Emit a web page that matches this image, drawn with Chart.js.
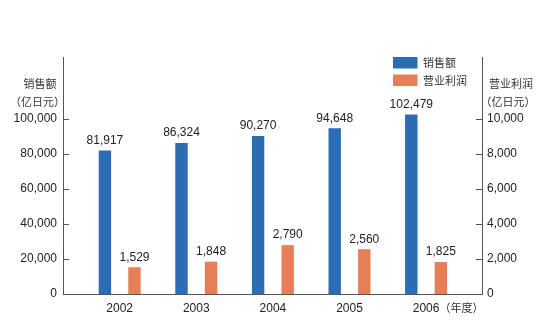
<!DOCTYPE html>
<html>
<head>
<meta charset="utf-8">
<script src="https://cdn.jsdelivr.net/npm/chart.js@4.4.1/dist/chart.umd.min.js"></script>
<style>
  html, body { margin: 0; padding: 0; background: #fff; }
  #wrap { width: 540px; height: 326px; }
</style>
</head>
<body>
<div id="wrap"><canvas id="chart" width="540" height="326"></canvas></div>
<script>
// --- data ---
const years = [2002, 2003, 2004, 2005, 2006];
const salesValues = [81917, 86324, 90270, 94648, 102479];   // 亿日元, left axis
const profitValues = [1529, 1848, 2790, 2560, 1825];        // 亿日元, right axis
const salesTicks = [0, 20000, 40000, 60000, 80000, 100000];
const profitTicks = [0, 2000, 4000, 6000, 8000, 10000];
const seriesNames = ['销售额', '营业利润'];
const unitLabel = '（亿日元）';
const yearSuffix = '（年度）';

const BLUE = '#2b6cb3';
const ORANGE = '#e57f58';
const TEXT = '#222';
const CJK_TEXT = '#333';
const AXIS = '#555';
const NUM_FONT = '12px "Liberation Sans", Arial, sans-serif';
const CJK_FONT = '11px "Noto Sans CJK SC", sans-serif';

const fmt = (v) => Number(v).toLocaleString('en-US');

// Extra bits the stock legend/labels can't do: inner tick marks, value labels,
// stacked legend at top right, axis unit titles, the 年度 suffix.
const decorations = {
    id: 'decorations',
    afterDraw(chart) {
        const { ctx, scales } = chart;
        const yL = scales.ySales;
        const yR = scales.yProfit;
        const x = scales.x;
        ctx.save();

        // inner tick marks
        ctx.strokeStyle = AXIS;
        ctx.lineWidth = 1;
        salesTicks.forEach(v => {
            if (v === 0) return;
            const py = Math.round(yL.getPixelForValue(v)) + 0.5;
            ctx.beginPath();
            ctx.moveTo(yL.right, py);
            ctx.lineTo(yL.right + 6, py);
            ctx.stroke();
        });
        profitTicks.forEach(v => {
            if (v === 0) return;
            const py = Math.round(yR.getPixelForValue(v)) + 0.5;
            ctx.beginPath();
            ctx.moveTo(yR.left - 6, py);
            ctx.lineTo(yR.left, py);
            ctx.stroke();
        });

        // value labels over bars
        ctx.fillStyle = TEXT;
        ctx.font = NUM_FONT;
        ctx.textAlign = 'center';
        ctx.textBaseline = 'bottom';
        chart.data.datasets.forEach((ds, di) => {
            chart.getDatasetMeta(di).data.forEach((bar, i) => {
                ctx.fillText(fmt(ds.data[i].y), bar.x, bar.y - 4);
            });
        });

        // legend
        ctx.textAlign = 'left';
        ctx.textBaseline = 'middle';
        ctx.font = CJK_FONT;
        chart.data.datasets.forEach((ds, di) => {
            const top = 57 + di * 17.5;
            ctx.fillStyle = ds.backgroundColor;
            ctx.fillRect(393, top, 24.5, 11.5);
            ctx.fillStyle = CJK_TEXT;
            ctx.fillText(ds.label, 423, top + 6);
        });

        // axis unit titles
        ctx.fillStyle = CJK_TEXT;
        ctx.textAlign = 'center';
        ctx.fillText(seriesNames[0], 40, 84);
        ctx.fillText(unitLabel, 37.5, 102);
        ctx.fillText(seriesNames[1], 511, 84);
        ctx.fillText(unitLabel, 508, 102);

        // (年度) after the last year label
        ctx.textAlign = 'left';
        ctx.font = NUM_FONT;
        const lastYear = years[years.length - 1];
        const half = ctx.measureText(String(lastYear)).width / 2;
        ctx.font = CJK_FONT;
        ctx.fillText(yearSuffix, x.getPixelForValue(lastYear) + half, x.top + 14);

        ctx.restore();
    }
};

new Chart(document.getElementById('chart'), {
    type: 'bar',
    data: {
        datasets: [
            {
                label: seriesNames[0],
                data: years.map((yr, i) => ({ x: yr, y: salesValues[i] })),
                backgroundColor: BLUE,
                yAxisID: 'ySales'
            },
            {
                label: seriesNames[1],
                data: years.map((yr, i) => ({ x: yr, y: profitValues[i] })),
                backgroundColor: ORANGE,
                yAxisID: 'yProfit'
            }
        ]
    },
    options: {
        responsive: false,
        animation: false,
        layout: { padding: { top: 57, left: 0, right: 0, bottom: 0 } },
        datasets: { bar: { categoryPercentage: 0.772, barPercentage: 0.42 } },
        plugins: {
            legend: { display: false },
            tooltip: { enabled: false }
        },
        scales: {
            x: {
                type: 'linear',
                offset: false,
                min: 2001.26,
                max: 2006.73,
                grid: { display: false, drawTicks: false, offset: false },
                border: { display: true, color: AXIS, width: 1 },
                afterBuildTicks: (s) => { s.ticks = years.map(v => ({ value: v })); },
                afterFit: (s) => { s.height = 32; },
                ticks: {
                    padding: 7,
                    color: TEXT,
                    font: { family: '"Liberation Sans", Arial, sans-serif', size: 12 },
                    callback: (v) => String(v)
                }
            },
            ySales: {
                position: 'left',
                min: 0,
                max: 135400,
                grid: { display: false, drawTicks: false },
                border: { display: true, color: AXIS, width: 1 },
                afterBuildTicks: (s) => { s.ticks = salesTicks.map(v => ({ value: v })); },
                afterFit: (s) => { s.width = 63; },
                ticks: {
                    padding: 6,
                    color: TEXT,
                    font: { family: '"Liberation Sans", Arial, sans-serif', size: 12 },
                    callback: (v) => fmt(v)
                }
            },
            yProfit: {
                position: 'right',
                min: 0,
                max: 13540,
                grid: { display: false, drawTicks: false },
                border: { display: true, color: AXIS, width: 1 },
                afterBuildTicks: (s) => { s.ticks = profitTicks.map(v => ({ value: v })); },
                afterFit: (s) => { s.width = 58; },
                ticks: {
                    padding: 5,
                    color: TEXT,
                    font: { family: '"Liberation Sans", Arial, sans-serif', size: 12 },
                    callback: (v) => fmt(v)
                }
            }
        }
    },
    plugins: [decorations]
});
</script>
</body>
</html>
